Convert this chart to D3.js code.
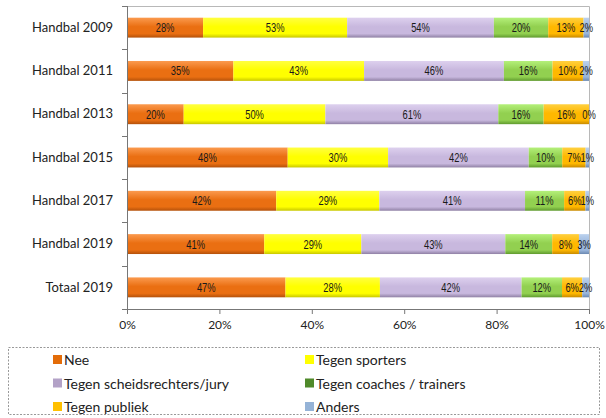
<!DOCTYPE html>
<html>
<head>
<meta charset="utf-8">
<script src="https://cdn.jsdelivr.net/npm/d3@7"></script>
<style>
  body { margin: 0; background: #fff; }
  svg text { font-family: Lato, "Open Sans", sans-serif; }
  .val { font-family: "Liberation Sans", Arial, sans-serif; font-size: 12px; fill: #1a1a1a; }
</style>
</head>
<body>
<svg id="chart" width="606" height="418"></svg>
<script>
const categories = ['Handbal 2009', 'Handbal 2011', 'Handbal 2013', 'Handbal 2015', 'Handbal 2017', 'Handbal 2019', 'Totaal 2019']
const seriesNames = ['Nee', 'Tegen sporters', 'Tegen scheidsrechters/jury', 'Tegen coaches / trainers', 'Tegen publiek', 'Anders']
const nee       = [28, 35, 20, 48, 42, 41, 47]
const sporters  = [53, 43, 50, 30, 29, 29, 28]
const scheids   = [54, 46, 61, 42, 41, 43, 42]
const coaches   = [20, 16, 16, 10, 11, 14, 12]
const publiek   = [13, 10, 16, 7, 6, 8, 6]
const anders    = [2, 2, 0, 1, 1, 3, 2]
const xTicks = [0, 0.2, 0.4, 0.6, 0.8, 1]

const values = [nee, sporters, scheids, coaches, publiek, anders]
// bar gradients: light / base / dark, plus legend swatch
const colors = [
  { light: '#fb9a4e', base: '#ea6f12', dark: '#b4510a', swatch: '#e36c09' },
  { light: '#ffff40', base: '#ffff00', dark: '#c8c800', swatch: '#ffff00' },
  { light: '#ddd0ee', base: '#c8b8de', dark: '#8f80a4', swatch: '#b3a2c7' },
  { light: '#b4f07a', base: '#92d050', dark: '#5f9a2e', swatch: '#4f8a2a' },
  { light: '#ffd040', base: '#ffb800', dark: '#c88a00', swatch: '#ffc000' },
  { light: '#bcd2ee', base: '#9ab6dc', dark: '#6a88b0', swatch: '#95b3d7' }
]

const svg = d3.select('#chart')
const margin = { left: 127, right: 17, top: 6, bottom: 109 }
const width = 606 - margin.left - margin.right
const height = 418 - margin.top - margin.bottom

const rows = categories.map((c, i) => {
  const row = { cat: c }
  seriesNames.forEach((s, j) => row[s] = values[j][i])
  return row
})

const stacked = d3.stack().keys(seriesNames).offset(d3.stackOffsetExpand)(rows)

const x = d3.scaleLinear().domain([0, 1]).range([0, width])
const y = d3.scaleBand().domain(categories).range([0, height]).paddingInner(0.54).paddingOuter(0.27)

const defs = svg.append('defs')
colors.forEach((c, i) => {
  const g = defs.append('linearGradient').attr('id', `grad${i}`)
    .attr('x1', 0).attr('y1', 0).attr('x2', 0).attr('y2', 1)
  g.append('stop').attr('offset', '0%').attr('stop-color', c.light)
  g.append('stop').attr('offset', '45%').attr('stop-color', c.base)
  g.append('stop').attr('offset', '80%').attr('stop-color', c.base)
  g.append('stop').attr('offset', '100%').attr('stop-color', c.dark)
})

const plot = svg.append('g').attr('transform', `translate(${margin.left},${margin.top})`)

// plot frame (top / right)
plot.append('path')
  .attr('d', `M0,0.5H${width + 0.5}V${height}`)
  .attr('fill', 'none').attr('stroke', '#b8b8b8')

const layers = plot.selectAll('.layer').data(stacked).enter().append('g')
  .attr('class', 'layer')
  .attr('fill', (d, i) => `url(#grad${i})`)

layers.selectAll('rect').data(d => d).enter().append('rect')
  .attr('x', d => x(d[0]))
  .attr('y', d => y(d.data.cat))
  .attr('width', d => x(d[1]) - x(d[0]))
  .attr('height', y.bandwidth())

// narrow value labels (squeezed horizontally like Arial Narrow)
layers.selectAll('text').data(d => d.map(v => ({ v, key: d.key }))).enter().append('text')
  .attr('class', 'val')
  .attr('transform', d => {
    const cx = (x(d.v[0]) + x(d.v[1])) / 2
    const cy = y(d.v.data.cat) + y.bandwidth() / 2 + 4.5
    return `translate(${cx},${cy}) scale(0.78,1)`
  })
  .attr('text-anchor', 'middle')
  .text(d => d.v.data[d.key] + '%')

// left axis
const yAxis = plot.append('g')
  .call(d3.axisLeft(y).tickSize(0).tickPadding(14))
yAxis.select('.domain').remove()
yAxis.selectAll('text').attr('font-size', 13).attr('fill', '#222')
plot.append('line').attr('x1', 0.5).attr('x2', 0.5).attr('y1', 0).attr('y2', height)
  .attr('stroke', '#777')
const bounds = d3.range(categories.length + 1).map(i => i * height / categories.length)
plot.selectAll('.ytick').data(bounds).enter().append('line')
  .attr('x1', -5).attr('x2', 0)
  .attr('y1', d => Math.round(d) + 0.5).attr('y2', d => Math.round(d) + 0.5)
  .attr('stroke', '#777')

// bottom axis
const xAxis = plot.append('g').attr('transform', `translate(0,${height})`)
  .call(d3.axisBottom(x).tickValues(xTicks).tickFormat(d3.format('.0%')).tickSize(5).tickSizeOuter(0).tickPadding(6))
xAxis.select('.domain').attr('stroke', '#777')
xAxis.selectAll('.tick line').attr('stroke', '#777')
xAxis.selectAll('text').attr('font-size', 12).attr('fill', '#222')

// legend
const legend = svg.append('g')
legend.append('rect')
  .attr('x', 8.5).attr('y', 347.5).attr('width', 591).attr('height', 67)
  .attr('fill', 'none').attr('stroke', '#999').attr('stroke-dasharray', '2,1.5')

const item = legend.selectAll('.item').data(seriesNames).enter().append('g')
  .attr('transform', (d, i) => `translate(${i % 2 === 0 ? 53 : 305},${360 + Math.floor(i / 2) * 23.5})`)
item.append('rect').attr('x', 0).attr('y', -5).attr('width', 9).attr('height', 9)
  .attr('fill', (d, i) => colors[i].swatch)
item.append('text').attr('x', 11).attr('y', 5)
  .attr('font-size', 14).attr('fill', '#222')
  .text(d => d)
</script>
</body>
</html>
